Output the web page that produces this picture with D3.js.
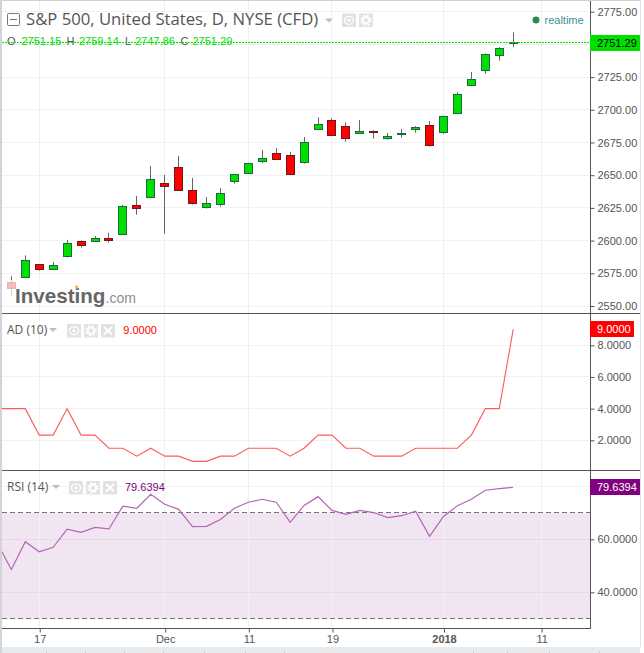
<!DOCTYPE html>
<html>
<head>
<meta charset="utf-8">
<title>S&amp;P 500</title>
<script src="https://cdnjs.cloudflare.com/ajax/libs/d3/7.8.5/d3.min.js"></script>
<style>
  html, body { margin: 0; padding: 0; background: #fff; }
  svg { display: block; }
  text { font-family: "Liberation Sans", Arial, sans-serif; }
  .legend { font-family: "Open Sans", sans-serif; }
</style>
</head>
<body>
<div id="chart"></div>
<script>
// trading days, Nov 14 2017 to Jan 9 2018
var days = ["Nov 14", "Nov 15", "Nov 16", "Nov 17", "Nov 20", "Nov 21", "Nov 22", "Nov 24", "Nov 27", "Nov 28",
  "Nov 29", "Nov 30", "Dec 1", "Dec 4", "Dec 5", "Dec 6", "Dec 7", "Dec 8", "Dec 11", "Dec 12",
  "Dec 13", "Dec 14", "Dec 15", "Dec 18", "Dec 19", "Dec 20", "Dec 21", "Dec 22", "Dec 26", "Dec 27",
  "Dec 28", "Dec 29", "Jan 2", "Jan 3", "Jan 4", "Jan 5", "Jan 8", "Jan 9", "Jan 10", "Jan 11"];

var opens = [2577, 2567.8, 2572, 2581.9, 2577.8, 2587.7, 2599.4, 2599.2, 2601.7, 2604.5,
  2627, 2632.8, 2643.8, 2656, 2638.4, 2625.2, 2627.5, 2645.1, 2651.4, 2660.3,
  2666.7, 2665.2, 2659.6, 2684.8, 2691.9, 2687.4, 2681.8, 2683.5, 2677.9, 2681,
  2684.8, 2688.1, 2682.5, 2697, 2718.5, 2729.9, 2741.4, 2751.15];
var highs = [2579, 2572.8, 2588.7, 2582, 2583.6, 2600.5, 2600, 2603.5, 2605.8, 2627.2,
  2634.1, 2657, 2650.2, 2664.7, 2647.9, 2633.3, 2640.2, 2650.7, 2659.5, 2669.3,
  2670.8, 2667.7, 2679.2, 2694.2, 2693.5, 2690.4, 2692.2, 2684.3, 2682.3, 2685.3,
  2687.5, 2691.4, 2695.5, 2713.4, 2728.9, 2743, 2748, 2759.14];
var lows = [2576, 2557.5, 2572, 2577, 2577.5, 2587, 2594.6, 2599, 2598.4, 2604.5,
  2619.8, 2632.8, 2605.3, 2638, 2627.5, 2624.5, 2625.9, 2643.5, 2651, 2659.3,
  2661.9, 2650, 2658.8, 2684.8, 2680, 2675.6, 2681.5, 2677.9, 2677.2, 2678.7,
  2682.5, 2672, 2681.5, 2697, 2718, 2727.6, 2737.6, 2747.86];
var closes = [2579, 2563.2, 2585, 2577.8, 2581, 2597.9, 2596.1, 2601.7, 2600, 2626.2,
  2624.4, 2646.8, 2641.2, 2638.2, 2628.2, 2628.5, 2636.1, 2650.7, 2659.1, 2662.9,
  2661.9, 2650.4, 2675.1, 2688.9, 2680.2, 2677.9, 2683.5, 2682.5, 2679.7, 2682,
  2686.6, 2672.6, 2695, 2711.8, 2723.3, 2742.4, 2747, 2751.29];

var adValues = [4, 4, 4, 2.33, 2.33, 4, 2.33, 2.33, 1.5, 1.5,
  1, 1.5, 1, 1, 0.67, 0.67, 1, 1, 1.5, 1.5,
  1.5, 1, 1.5, 2.33, 2.33, 1.5, 1.5, 1, 1, 1,
  1.5, 1.5, 1.5, 1.5, 2.33, 4, 4, 9];
var rsiValues = [58.4, 48.6, 59.1, 55.3, 57, 63.8, 62.6, 64.5, 63.9, 72.5,
  71.7, 77, 73.2, 71.3, 64.8, 64.9, 67.5, 71.7, 74, 75.1,
  74, 66.4, 72.8, 76.1, 70.9, 69.4, 70.9, 70.1, 68.2, 68.9,
  70.6, 61.1, 68.6, 72.7, 75.1, 78.5, 79.1, 79.6394];

var priceTicks = [2550, 2575, 2600, 2625, 2650, 2675, 2700, 2725, 2750, 2775];
var adTicks = [2, 4, 6, 8];
var rsiTicks = [40, 60, 80];
var rsiBand = [30, 70];
var dateTicks = ["Nov 17", "Dec 1", "Dec 11", "Dec 19", "Jan 2", "Jan 11"];
var dateLabels = ["17", "Dec", "11", "19", "2018", "11"];

var svgWidth = 644, svgHeight = 653;
var plotLeft = 2, axisX = 590, chartRight = 640;
var pane1 = 313, pane2 = 470, pane3 = 628;

var green = "#00e000", red = "#ff0000", greenEdge = "#1c6b3c", redEdge = "#701818";
var gridColor = "#f1f1f3", textColor = "#555", lineColor = "#555";

var svg = d3.select("#chart").append("svg")
  .attr("width", svgWidth)
  .attr("height", svgHeight);

svg.append("defs").append("clipPath").attr("id", "plot")
  .append("rect")
  .attr("x", plotLeft).attr("y", 0)
  .attr("width", axisX - plotLeft).attr("height", pane3);

// scales
var xScale = d3.scaleLinear().domain([0, 37]).range([-2.58, 513.2]);
var yPrice = d3.scaleLinear().domain([2550, 2775]).range([306, 11.7]);
var yAd = d3.scaleLinear().domain([2, 8]).range([440.3, 345.3]);
var yRsi = d3.scaleLinear().domain([40, 80]).range([592.3, 486.3]);

function snap(v) {
  return Math.floor(v) + 0.5;
}
function xOfDay(day) {
  return xScale(days.indexOf(day));
}

// page frame
svg.append("rect").attr("x", 0).attr("y", 647).attr("width", chartRight).attr("height", 6).attr("fill", "#e8ebee");
svg.append("rect").attr("x", 0).attr("y", 0).attr("width", chartRight).attr("height", 1).attr("fill", "#cfcfd6");
svg.append("rect").attr("x", 0).attr("y", 0).attr("width", 2).attr("height", 653).attr("fill", "#d3d3dc");
svg.append("rect").attr("x", 640).attr("y", 0).attr("width", 1).attr("height", 647).attr("fill", "#e2e2e6");

[46.5, 85.5, 124.5, 163.5, 204.5, 245.5, 284.5, 473.5, 507.5, 549.5, 599.5].forEach(function(tx) {
  svg.append("line").attr("x1", tx).attr("x2", tx).attr("y1", 651).attr("y2", 653).attr("stroke", "#c8cbd0");
});

// RSI band goes under the grid
svg.append("rect")
  .attr("x", plotLeft)
  .attr("y", yRsi(rsiBand[1]))
  .attr("width", axisX - plotLeft)
  .attr("height", yRsi(rsiBand[0]) - yRsi(rsiBand[1]))
  .attr("fill", "#800080")
  .attr("opacity", 0.1);

// grid
var grid = svg.append("g").attr("stroke", gridColor).attr("stroke-width", 1);

function hGrid(values, scale) {
  grid.selectAll(null)
    .data(values)
    .enter()
    .append("line")
    .attr("x1", plotLeft).attr("x2", axisX)
    .attr("y1", d => snap(scale(d)))
    .attr("y2", d => snap(scale(d)));
}
hGrid(priceTicks, yPrice);
hGrid(adTicks, yAd);
hGrid(rsiTicks, yRsi);

// the band shows through the grid a little
svg.selectAll(null)
  .data(rsiTicks.filter(d => d < 70))
  .enter()
  .append("line")
  .attr("x1", plotLeft).attr("x2", axisX)
  .attr("y1", d => snap(yRsi(d))).attr("y2", d => snap(yRsi(d)))
  .attr("stroke", "#e6d8e8");

grid.selectAll(null)
  .data(dateTicks)
  .enter()
  .append("line")
  .attr("x1", d => snap(xOfDay(d))).attr("x2", d => snap(xOfDay(d)))
  .attr("y1", 1).attr("y2", pane3);

// RSI dashed limits
svg.append("g").selectAll("line")
  .data(rsiBand)
  .enter()
  .append("line")
  .attr("x1", plotLeft).attr("x2", axisX)
  .attr("y1", d => snap(yRsi(d))).attr("y2", d => snap(yRsi(d)))
  .attr("stroke", "#7a6f7a")
  .attr("stroke-dasharray", "5,3");

// candles
var candles = svg.append("g").attr("clip-path", "url(#plot)")
  .selectAll("g")
  .data(opens.map((d, i) => i))
  .enter()
  .append("g");

candles.append("line")
  .attr("x1", i => snap(xScale(i)))
  .attr("x2", i => snap(xScale(i)))
  .attr("y1", i => yPrice(highs[i]))
  .attr("y2", i => yPrice(lows[i]))
  .attr("stroke", "#666");

candles.append("rect")
  .attr("x", i => snap(xScale(i)) - 4)
  .attr("y", i => snap(yPrice(Math.max(opens[i], closes[i]))))
  .attr("width", 8)
  .attr("height", i => Math.max(1, Math.round(Math.abs(yPrice(opens[i]) - yPrice(closes[i])))))
  .attr("fill", i => closes[i] >= opens[i] ? green : red)
  .attr("stroke", i => closes[i] >= opens[i] ? greenEdge : redEdge);

// indicator lines
var adLine = d3.line().x((d, i) => xScale(i)).y(d => yAd(d));
var rsiLine = d3.line().x((d, i) => xScale(i)).y(d => yRsi(d));

var lines = svg.append("g").attr("clip-path", "url(#plot)").attr("fill", "none");
lines.append("path").datum(adValues).attr("d", adLine).attr("stroke", "#ff5a5a").attr("stroke-width", 1.1);
lines.append("path").datum(rsiValues).attr("d", rsiLine).attr("stroke", "#b565b5").attr("stroke-width", 1.2);

// logo sits over the first candle
svg.append("rect").attr("x", 3).attr("y", 280).attr("width", 133).attr("height", 24).attr("fill", "#fff").attr("opacity", 0.72);
svg.append("text").attr("x", 15).attr("y", 303.3)
  .attr("font-size", 20.6).attr("font-weight", "bold").attr("fill", "#666").text("Investing");
svg.append("text").attr("x", 105.5).attr("y", 303.3)
  .attr("font-size", 14).attr("fill", "#8c8c8c").text(".com");
svg.append("circle").attr("cx", 76.7).attr("cy", 287).attr("r", 1.8).attr("fill", "#f5b95f");

// pane separators
[pane1, pane2].forEach(function(py) {
  svg.append("line").attr("x1", plotLeft).attr("x2", chartRight)
    .attr("y1", py + 0.5).attr("y2", py + 0.5)
    .attr("stroke", lineColor);
});

// right axes
function rightAxis(scale, ticks, fmt) {
  var g = svg.append("g")
    .attr("transform", `translate(${axisX + 0.5}, 0)`)
    .call(d3.axisRight(scale).tickValues(ticks).tickFormat(d3.format(fmt)).tickSize(4).tickPadding(3));
  g.select(".domain").remove();
  g.selectAll("line").attr("stroke", lineColor);
  g.selectAll("text").attr("font-size", 11).attr("fill", textColor).attr("font-family", "Liberation Sans");
  return g;
}
// 2750 is covered by the last price box
rightAxis(yPrice, priceTicks.filter(d => d != 2750), ".2f");
rightAxis(yAd, adTicks, ".4f");
rightAxis(yRsi, rsiTicks.filter(d => d < 80), ".4f");

svg.append("line").attr("x1", axisX + 0.5).attr("x2", axisX + 0.5).attr("y1", 1).attr("y2", pane3 + 1).attr("stroke", lineColor);

// bottom axis
var xAxis = d3.axisBottom(xScale)
  .tickValues(dateTicks.map(d => days.indexOf(d)))
  .tickFormat((d, i) => dateLabels[i])
  .tickSize(4)
  .tickPadding(3);

var xAxisGroup = svg.append("g")
  .attr("transform", `translate(0.5, ${pane3 + 0.5})`)
  .call(xAxis);
xAxisGroup.select(".domain").remove();
xAxisGroup.selectAll("line").attr("stroke", lineColor);
xAxisGroup.selectAll("text")
  .attr("font-size", 11)
  .attr("fill", textColor)
  .attr("font-family", "Liberation Sans")
  .attr("font-weight", (d, i) => dateLabels[i] == "2018" ? "bold" : "normal");
svg.append("line").attr("x1", plotLeft).attr("x2", axisX).attr("y1", pane3 + 0.5).attr("y2", pane3 + 0.5).attr("stroke", lineColor);

// last value line and boxes
var lastClose = closes[closes.length - 1];
var lastAd = adValues[adValues.length - 1];
var lastRsi = rsiValues[rsiValues.length - 1];

function valueBox(y, h, w, fill, color, label) {
  svg.append("rect")
    .attr("x", axisX).attr("y", Math.round(y - h / 2))
    .attr("width", w).attr("height", h)
    .attr("fill", fill);
  svg.append("text")
    .attr("x", axisX + 7).attr("y", y + 4)
    .attr("font-size", 11)
    .attr("fill", color)
    .text(label);
}
valueBox(yPrice(lastClose), 16, 50, green, "#000", d3.format(".2f")(lastClose));
valueBox(yAd(lastAd), 16, 44, "#ff0000", "#fff", d3.format(".4f")(lastAd));
valueBox(yRsi(lastRsi), 16, 50, "#800080", "#fff", d3.format(".4f")(lastRsi));

// header text
svg.append("rect").attr("x", 7.5).attr("y", 13.5).attr("width", 12).attr("height", 12)
  .attr("rx", 1).attr("fill", "none").attr("stroke", "#777");
svg.append("line").attr("x1", 10).attr("x2", 17).attr("y1", 19.5).attr("y2", 19.5).attr("stroke", "#777");

svg.append("text").attr("class", "legend").attr("x", 26).attr("y", 25)
  .attr("font-size", 16.7).attr("fill", textColor).text("S&P 500, United States, D, NYSE (CFD)");

function caret(x, y) {
  svg.append("path").attr("d", `M${x},${y}h8l-4,4z`).attr("fill", "#bdbdbd");
}
caret(325, 18.5);

// small grey toolbar buttons: eye, gear, close
function button(x, y, kind) {
  var g = svg.append("g").attr("transform", `translate(${x}, ${y})`);
  g.append("rect").attr("width", 14).attr("height", 13.5).attr("fill", "#e2e2e2");
  if (kind == "eye") {
    g.append("ellipse").attr("cx", 7).attr("cy", 6.8).attr("rx", 4.5).attr("ry", 4).attr("fill", "none").attr("stroke", "#fff").attr("stroke-width", 1.3);
    g.append("circle").attr("cx", 7).attr("cy", 6.8).attr("r", 1.6).attr("fill", "#fff");
  } else if (kind == "gear") {
    g.append("circle").attr("cx", 7).attr("cy", 6.8).attr("r", 3.3).attr("fill", "none").attr("stroke", "#fff").attr("stroke-width", 2);
    g.append("circle").attr("cx", 7).attr("cy", 6.8).attr("r", 5).attr("fill", "none").attr("stroke", "#fff").attr("stroke-width", 1.4).attr("stroke-dasharray", "2,2");
  } else {
    g.append("path").attr("d", "M3,3L11,10.5M11,3L3,10.5").attr("stroke", "#fff").attr("stroke-width", 1.8);
  }
}
button(342, 13.5, "eye");
button(359, 13.5, "gear");

// OHLC row
var lastOhlc = [opens[37], highs[37], lows[37], closes[37]];
var ohlcLetters = ["O", "H", "L", "C"];
var letterX = [7, 66.5, 125, 180.5];
var valueX = [21.5, 79, 135, 192.5];
lastOhlc.forEach(function(v, i) {
  svg.append("text").attr("x", letterX[i]).attr("y", 44.5).attr("font-size", 11).attr("fill", textColor).text(ohlcLetters[i]);
  svg.append("text").attr("x", valueX[i]).attr("y", 44.5).attr("font-size", 11).attr("fill", green).text(d3.format(".2f")(v));
});

svg.append("line")
  .attr("x1", plotLeft).attr("x2", axisX)
  .attr("y1", snap(yPrice(lastClose))).attr("y2", snap(yPrice(lastClose)))
  .attr("stroke", "#00e800")
  .attr("stroke-dasharray", "2,1");

// realtime badge
svg.append("circle").attr("cx", 536).attr("cy", 20).attr("r", 3.5).attr("fill", "#2e8b57");
svg.append("text").attr("x", 544.5).attr("y", 23.5).attr("font-size", 11).attr("fill", "#3d8f8f").text("realtime");

// AD legend
svg.append("text").attr("class", "legend").attr("x", 7).attr("y", 334).attr("font-size", 12).attr("fill", textColor).text("AD (10)");
caret(49, 328);
button(67, 324, "eye");
button(84, 324, "gear");
button(101, 324, "x");
svg.append("text").attr("x", 123.3).attr("y", 334.3).attr("font-size", 11).attr("fill", "#ff0000").text(d3.format(".4f")(lastAd));

// RSI legend
svg.append("text").attr("class", "legend").attr("x", 7).attr("y", 491).attr("font-size", 12).attr("fill", textColor).text("RSI (14)");
caret(52, 485);
button(69, 481, "eye");
button(86, 481, "gear");
button(103, 481, "x");
svg.append("text").attr("x", 125).attr("y", 491.3).attr("font-size", 11).attr("fill", "#800080").text(d3.format(".4f")(lastRsi));
</script>
</body>
</html>
